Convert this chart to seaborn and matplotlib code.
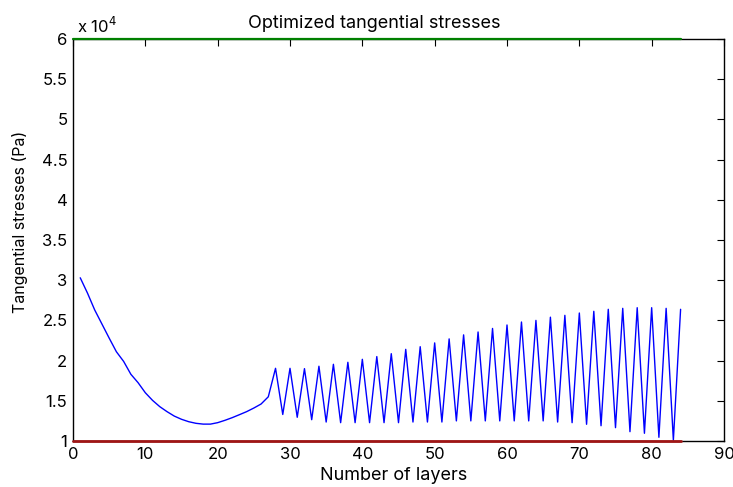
import matplotlib
matplotlib.use("Agg")
import matplotlib.pyplot as plt
import seaborn as sns
import pandas as pd
from matplotlib.ticker import FuncFormatter, MultipleLocator

layers = list(range(1, 85))
stress_e4 = [
    3.03, 2.84, 2.63, 2.455, 2.28, 2.11, 1.99, 1.83, 1.725, 1.60,
    1.505, 1.427, 1.365, 1.31, 1.27, 1.24, 1.22, 1.21, 1.21, 1.228,
    1.257, 1.29, 1.327, 1.365, 1.41, 1.46, 1.55,
    1.904, 1.33, 1.904, 1.295, 1.90, 1.265, 1.93, 1.236, 1.954, 1.228,
    1.979, 1.228, 2.016, 1.228, 2.05, 1.228, 2.086, 1.228, 2.14, 1.236,
    2.173, 1.236, 2.22, 1.236, 2.27, 1.25, 2.32, 1.25, 2.356, 1.25,
    2.40, 1.25, 2.443, 1.25, 2.48, 1.25, 2.50, 1.25, 2.54, 1.236,
    2.563, 1.228, 2.592, 1.208, 2.613, 1.19, 2.638, 1.166, 2.65, 1.116,
    2.658, 1.096, 2.658, 1.046, 2.65, 1.01, 2.638,
]
stress = [v * 1e4 for v in stress_e4]
bound_x = [0, 84]
upper_bound = [6e4, 6e4]
lower_bound = [1e4, 1e4]

title = "Optimized tangential stresses"
xlabel = "Number of layers"
ylabel = "Tangential stresses (Pa)"

sns.set_style("white")
plt.rcParams['font.family'] = ['Inter', 'Liberation Sans', 'DejaVu Sans']
plt.rcParams['text.color'] = 'black'
plt.rcParams['axes.labelcolor'] = 'black'
plt.rcParams['xtick.color'] = 'black'
plt.rcParams['ytick.color'] = 'black'

W, H = 733, 487
fig = plt.figure(figsize=(W / 100, H / 100), dpi=100)
ax = fig.add_axes([73 / W, 1 - 441 / H, (724 - 73) / W, (441 - 39) / H])

df = pd.DataFrame({"layer": layers, "stress": stress})
dfu = pd.DataFrame({"layer": bound_x, "stress": upper_bound})
dfl = pd.DataFrame({"layer": bound_x, "stress": lower_bound})

sns.lineplot(data=df, x="layer", y="stress", ax=ax, color="#0000ff", lw=1.0)
sns.lineplot(data=dfu, x="layer", y="stress", ax=ax, color="#008000", lw=1.6,
             zorder=4, clip_on=False)
sns.lineplot(data=dfl, x="layer", y="stress", ax=ax, color="#a01515", lw=2.0,
             zorder=5, clip_on=False)

ax.set_xlim(0, 90)
ax.set_ylim(1e4, 6e4)
ax.xaxis.set_major_locator(MultipleLocator(10))
ax.yaxis.set_major_locator(MultipleLocator(5e3))
ax.yaxis.set_major_formatter(FuncFormatter(lambda v, p: f"{v/1e4:g}"))
ax.tick_params(direction="in", top=True, right=True, length=5, width=0.8,
               labelsize=12, colors="black", labelcolor="black")
ax.tick_params(axis="x", pad=4)
ax.tick_params(axis="y", pad=4)
for s in ax.spines.values():
    s.set_color("black")
    s.set_linewidth(1.0)
ax.grid(False)
ax.set_xlabel("")
ax.set_ylabel("")

fig.text(374 / W, 1 - 28 / H, title, fontsize=13, ha="center", va="baseline",
         color="black")
fig.text(394 / W, 1 - 480 / H, xlabel, fontsize=13, ha="center", va="baseline",
         color="black")
fig.text(20 / W, 1 - 222 / H, ylabel, fontsize=11.5, ha="center", va="center",
         rotation=90, color="black")
fig.text(77 / W, 1 - 33 / H, r"x 10$^{4}$", fontsize=12, ha="left",
         va="baseline", color="black")

fig.savefig("out.png", dpi=100)
